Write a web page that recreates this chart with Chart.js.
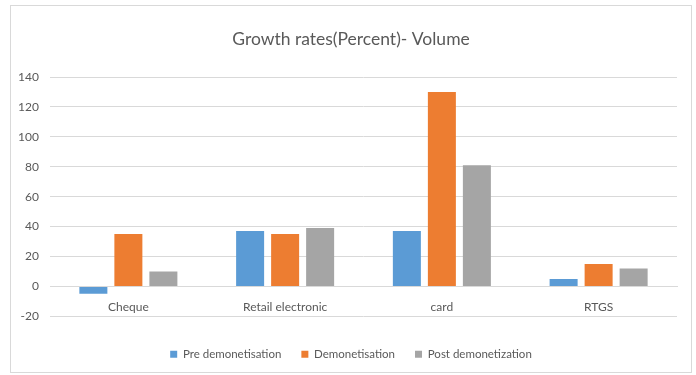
<!DOCTYPE html>
<html>
<head>
<meta charset="utf-8">
<script src="https://cdn.jsdelivr.net/npm/chart.js@4"></script>
<style>
    body { margin: 0; background: #fff; }
    #frame {
        position: absolute;
        left: 10px;
        top: 5px;
        width: 682px;
        height: 368px;
        border: 1px solid #d9d9d9;
        box-sizing: border-box;
    }
</style>
</head>
<body>
<div id="frame"><canvas id="growthChart"></canvas></div>
<script>
// Growth rates by payment mode
const categories = ['Cheque', 'Retail electronic', 'card', 'RTGS'];
const preDemonetisation = [-5, 37, 37, 5];
const demonetisation = [35, 35, 130, 15];
const postDemonetization = [10, 39, 81, 12];
const yTicks = { min: -20, max: 140, step: 20 };

const FONT = "Lato, 'Open Sans', sans-serif";
const TEXT = '#595959';
const GRID = '#d9d9d9';

const ctx = document.getElementById('growthChart').getContext('2d');
window.growthChart = new Chart(ctx, {
    type: 'bar',
    data: {
        labels: categories,
        datasets: [{
            label: 'Pre demonetisation',
            data: preDemonetisation,
            backgroundColor: '#5b9bd5'
        }, {
            label: 'Demonetisation',
            data: demonetisation,
            backgroundColor: '#ed7d31'
        }, {
            label: 'Post demonetization',
            data: postDemonetization,
            backgroundColor: '#a5a5a5'
        }]
    },
    options: {
        responsive: true,
        maintainAspectRatio: false,
        animation: false,
        categoryPercentage: 0.67,
        barPercentage: 0.8,
        layout: {
            padding: { left: 0, right: 0, top: 0, bottom: 2 }
        },
        plugins: {
            title: {
                display: true,
                text: 'Growth rates(Percent)- Volume',
                color: TEXT,
                font: { family: FONT, size: 17.5, weight: 'normal' },
                padding: { top: 23, bottom: 27 }
            },
            legend: {
                position: 'bottom',
                // empty title just opens a gap above the legend items
                title: {
                    display: true,
                    text: ' ',
                    font: { size: 1 },
                    padding: { top: 11, bottom: 0 }
                },
                labels: {
                    color: TEXT,
                    font: { family: FONT, size: 11.5 },
                    boxWidth: 7,
                    boxHeight: 7,
                    padding: 20
                }
            },
            tooltip: { enabled: false }
        },
        scales: {
            x: {
                position: { y: 0 },
                grid: { display: false },
                border: { color: GRID },
                ticks: {
                    color: TEXT,
                    font: { family: FONT, size: 12 },
                    padding: 6
                }
            },
            y: {
                min: yTicks.min,
                max: yTicks.max,
                border: { display: false },
                grid: { color: GRID, drawTicks: false },
                ticks: {
                    stepSize: yTicks.step,
                    color: TEXT,
                    font: { family: FONT, size: 12 },
                    padding: 11
                },
                afterFit(scale) {
                    scale.width = 39;
                }
            },
            // blank strip on the right so the plot stops short of the frame
            yRight: {
                position: 'right',
                grid: { display: false },
                border: { display: false },
                ticks: { display: false },
                afterFit(scale) {
                    scale.width = 14;
                }
            }
        }
    }
});
</script>
</body>
</html>
